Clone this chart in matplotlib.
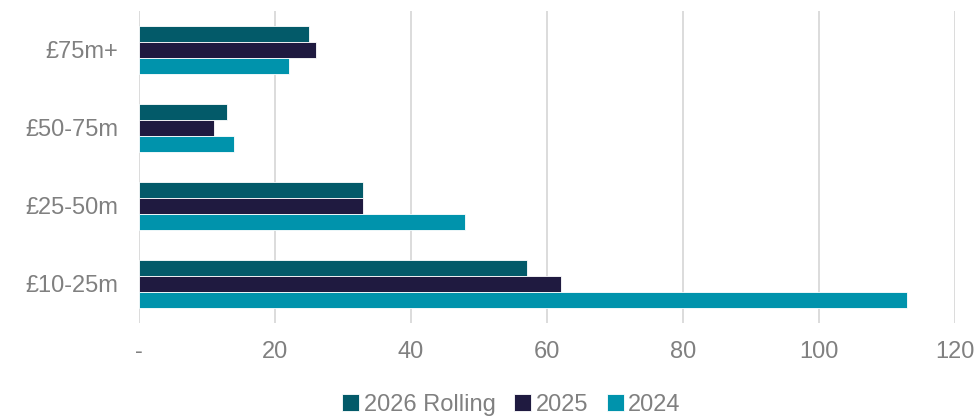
import matplotlib.pyplot as plt
import numpy as np

plt.rcParams['font.family'] = ['Liberation Sans', 'DejaVu Sans']

# Data (top to bottom as shown)
categories = ["£75m+", "£50-75m", "£25-50m", "£10-25m"]
series_names = ["2026 Rolling", "2025", "2024"]
rolling_2026 = [25, 13, 33, 57]
values_2025 = [26, 11, 33, 62]
values_2024 = [22, 14, 48, 113]
colors = ["#035a69", "#1f1a40", "#0093ac"]
x_ticks = [0, 20, 40, 60, 80, 100, 120]
x_tick_labels = ["-", "20", "40", "60", "80", "100", "120"]

fig = plt.figure(figsize=(9.8, 4.2), dpi=100)
ax = fig.add_axes([0.1418, 0.231, 0.8327, 0.743])

y = np.arange(len(categories))
bar_h = 0.208
for i, (name, vals) in enumerate(zip(series_names, [rolling_2026, values_2025, values_2024])):
    ax.barh(y + (i - 1) * bar_h, vals, height=bar_h, color=colors[i],
            edgecolor='white', linewidth=0.6, label=name, zorder=3)

ax.set_ylim(3.5, -0.5)
ax.set_xlim(0, 120)
ax.set_yticks(y)
ax.set_yticklabels(categories)
ax.set_xticks(x_ticks)
ax.set_xticklabels(x_tick_labels)
ax.tick_params(axis='both', length=0, labelsize=17, labelcolor='#808080')
ax.tick_params(axis='y', pad=15)
ax.tick_params(axis='x', pad=13)
ax.grid(axis='x', color='#d9d9d9', linewidth=1.3, zorder=0)
for s in ax.spines.values():
    s.set_visible(False)

leg = fig.legend(loc='lower center', bbox_to_anchor=(0.522, -0.04), ncol=3,
                 frameon=False, fontsize=17, handlelength=0.7, handleheight=0.7,
                 handletextpad=0.2, columnspacing=0.8)
for t in leg.get_texts():
    t.set_color('#808080')

fig.savefig('out.png', dpi=100)
